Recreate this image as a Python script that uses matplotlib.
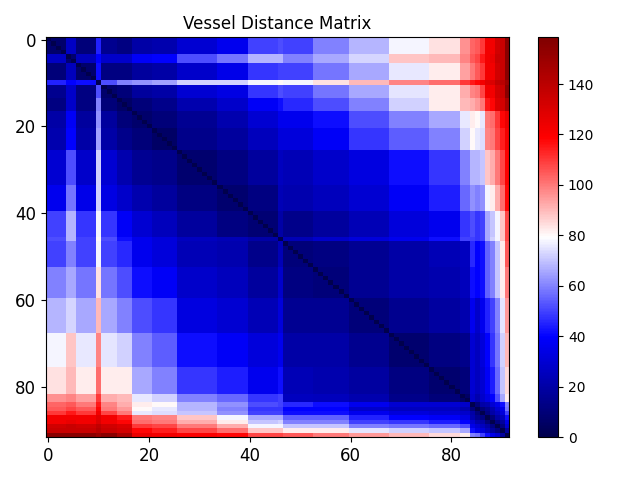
#!/usr/bin/env python3
import numpy as np
import matplotlib
matplotlib.use('Agg')
import matplotlib.pyplot as plt

# number of vessels in each run of similar distances
group_sizes = [4, 2, 4, 1, 3, 3, 4, 5, 8, 6, 6, 1, 6, 7, 8, 8, 6, 2, 1, 1, 1, 1, 1, 1, 1, 1]

# distances between the runs (upper triangle)
dist_rows = [
    [7, 27, 10, 45, 15, 12, 20, 22, 30, 36, 50, 52, 50, 60, 68, 78, 84, 96, 103, 105, 110, 122, 122, 133, 135, 155],
    [8, 25, 40, 28, 28, 38, 40, 52, 58, 68, 68, 60, 66, 73, 88, 90, 98, 105, 108, 115, 122, 125, 135, 135, 155],
    [7, 42, 12, 12, 18, 20, 28, 35, 48, 50, 50, 58, 66, 76, 82, 94, 100, 105, 110, 122, 122, 133, 135, 155],
    [0, 52, 60, 62, 65, 72, 72, 78, 80, 78, 84, 90, 98, 102, 110, 115, 118, 122, 128, 130, 138, 140, 150],
    [7, 10, 18, 20, 30, 34, 48, 52, 50, 58, 66, 75, 82, 92, 98, 100, 108, 122, 122, 133, 135, 155],
    [6, 10, 14, 22, 28, 38, 42, 46, 52, 60, 72, 82, 90, 92, 95, 100, 115, 118, 130, 132, 145],
    [7, 10, 16, 22, 30, 36, 36, 42, 52, 60, 66, 76, 82, 80, 76, 100, 102, 110, 118, 125],
    [6, 14, 18, 25, 32, 32, 38, 48, 54, 60, 72, 80, 76, 74, 98, 100, 108, 114, 122],
    [8, 12, 18, 26, 24, 28, 33, 42, 48, 60, 68, 68, 70, 88, 92, 100, 108, 120],
    [8, 12, 24, 22, 25, 30, 38, 44, 56, 62, 60, 62, 78, 82, 92, 102, 118],
    [9, 20, 14, 18, 24, 32, 36, 48, 52, 48, 50, 66, 70, 78, 88, 108],
    [0, 24, 28, 32, 36, 42, 50, 50, 48, 50, 66, 72, 78, 88, 108],
    [10, 12, 16, 20, 24, 26, 46, 40, 42, 55, 60, 70, 82, 105],
    [10, 16, 20, 22, 25, 42, 40, 42, 55, 60, 70, 82, 100],
    [10, 15, 19, 22, 36, 28, 36, 45, 50, 60, 75, 95],
    [8, 12, 14, 30, 26, 32, 40, 48, 58, 72, 90],
    [8, 10, 30, 26, 30, 38, 44, 56, 70, 85],
    [6, 28, 22, 28, 34, 40, 52, 66, 82],
    [0, 10, 20, 22, 30, 35, 42, 60],
    [0, 10, 15, 22, 30, 35, 58],
    [0, 12, 20, 26, 32, 50],
    [0, 10, 20, 25, 42],
    [0, 12, 18, 35],
    [0, 12, 30],
    [0, 18],
    [0],
]


def build_matrix(sizes, rows):
    n = len(sizes)
    blocks = np.zeros((n, n))
    for i, row in enumerate(rows):
        blocks[i, i:] = row
        blocks[i:, i] = row
    group_of = np.repeat(np.arange(n), sizes)
    mat = blocks[np.ix_(group_of, group_of)]
    np.fill_diagonal(mat, 0)
    return mat


def plot_distance_matrix(mat, save_file=None):
    fig, ax = plt.subplots(figsize=(6.4, 4.8), dpi=100)
    im = ax.imshow(mat, cmap='seismic', aspect='auto', vmin=0, vmax=158.5)
    ax.tick_params(labelsize=12)
    ax.set_title('Vessel Distance Matrix')
    fig.colorbar(im, ax=ax)
    fig.tight_layout()
    if save_file:
        fig.savefig(save_file, dpi=100)


def main():
    plot_distance_matrix(build_matrix(group_sizes, dist_rows), 'out.png')


if __name__ == '__main__':
    main()
